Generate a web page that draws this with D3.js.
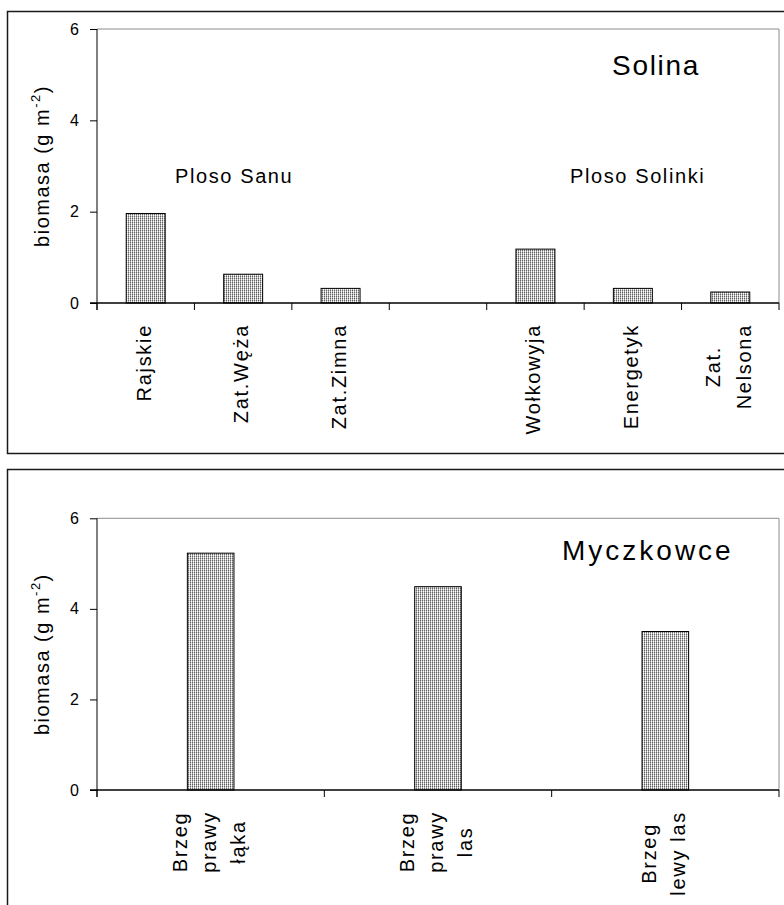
<!DOCTYPE html>
<html>
<head>
<meta charset="utf-8">
<script src="https://cdn.jsdelivr.net/npm/d3@7"></script>
<style>
  html, body { margin: 0; padding: 0; background: #fff; }
  svg { display: block; }
  text { font-family: "Liberation Sans", Arial, sans-serif; fill: #000; }
</style>
</head>
<body>
<svg id="chart" width="784" height="905"></svg>
<script>
// Solina reservoir sites (empty slot separates the two basins)
const solinaSites = ["Rajskie", "Zat.Węża", "Zat.Zimna", "", "Wołkowyja", "Energetyk", "Zat.\nNelsona"];
const solinaBiomass = [1.96, 0.63, 0.32, null, 1.18, 0.32, 0.24];
const solinaBasins = ["Ploso Sanu", "Ploso Solinki"];

// Myczkowce reservoir sites
const myczkowceSites = ["Brzeg\nprawy\nłąka", "Brzeg\nprawy\nlas", "Brzeg\nlewy las"];
const myczkowceBiomass = [5.23, 4.49, 3.50];

const yTicks = [0, 2, 4, 6];
const yTitle = ["biomasa (g m", "-2", ")"];

const svg = d3.select("#chart");

// Fine dotted fill used for the bars
const defs = svg.append("defs");
const pat = defs.append("pattern")
  .attr("id", "dots").attr("width", 2).attr("height", 2)
  .attr("patternUnits", "userSpaceOnUse");
pat.append("rect").attr("width", 2).attr("height", 2).attr("fill", "#fff");
pat.append("rect").attr("x", 0).attr("y", 0).attr("width", 1).attr("height", 1).attr("fill", "#606060");
pat.append("rect").attr("x", 0).attr("y", 1).attr("width", 1).attr("height", 1).attr("fill", "#a8a8a8");
pat.append("rect").attr("x", 1).attr("y", 0).attr("width", 1).attr("height", 1).attr("fill", "#d8d8d8");

function drawPanel(opt) {
  const g = svg.append("g");

  // outer frame
  g.append("rect")
    .attr("x", opt.frame[0]).attr("y", opt.frame[1])
    .attr("width", opt.frame[2]).attr("height", opt.frame[3])
    .attr("fill", "#fff").attr("stroke", "#1a1a1a").attr("stroke-width", 1.5);

  const x = d3.scaleBand().domain(d3.range(opt.sites.length))
    .range([opt.left, opt.right]).padding(0);
  const y = d3.scaleLinear().domain([0, 6]).range([opt.bottom, opt.top]);

  // plot-area border (top and right)
  g.append("path")
    .attr("d", `M${opt.left},${opt.top}H${opt.right}V${opt.bottom}`)
    .attr("fill", "none").attr("stroke", "#8c8c8c").attr("stroke-width", 1);

  // bars
  const bw = x.bandwidth() * opt.barFrac;
  g.selectAll("rect.bar")
    .data(opt.values.map((v, i) => ({ v, i })).filter(d => d.v != null))
    .join("rect").attr("class", "bar")
    .attr("x", d => x(d.i) + (x.bandwidth() - bw) / 2)
    .attr("y", d => y(d.v))
    .attr("width", bw)
    .attr("height", d => y(0) - y(d.v))
    .attr("fill", "url(#dots)")
    .attr("stroke", "#000").attr("stroke-width", 1);

  // y axis
  const yAxis = d3.axisLeft(y).tickValues(yTicks).tickSize(7).tickPadding(11).tickFormat(d3.format("d"));
  const ya = g.append("g").attr("transform", `translate(${opt.left},0)`).call(yAxis);
  ya.select(".domain").attr("d", `M0,${opt.top}V${opt.bottom + 7}`).attr("stroke", "#000");
  ya.selectAll(".tick line").attr("stroke", "#000");
  ya.selectAll(".tick text")
    .style("font-family", '"Liberation Sans", Arial, sans-serif')
    .style("font-size", "16px").attr("fill", "#000");

  // x axis with ticks on category boundaries
  const bounds = d3.range(opt.sites.length + 1).map(i => opt.left + i * x.step());
  g.append("line")
    .attr("x1", opt.left - 7).attr("x2", opt.right)
    .attr("y1", opt.bottom).attr("y2", opt.bottom)
    .attr("stroke", "#000").attr("stroke-width", 1.3);
  g.selectAll("line.xtick").data(bounds).join("line").attr("class", "xtick")
    .attr("x1", d => d).attr("x2", d => d)
    .attr("y1", opt.bottom).attr("y2", opt.bottom + 7)
    .attr("stroke", "#000").attr("stroke-width", 1);

  // category labels, rotated, wrapped on newlines
  const fs = 20, ls = 1.7, pitch = opt.pitch;
  opt.sites.forEach((s, i) => {
    if (!s) return;
    const lines = s.split("\n");
    const cx = x(i) + x.bandwidth() / 2;
    const lg = g.append("g");
    const tnodes = lines.map((ln, k) => lg.append("text")
      .attr("font-size", fs).attr("letter-spacing", ls)
      .attr("text-anchor", "middle")
      .text(ln));
    const maxLen = d3.max(tnodes, t => t.node().getComputedTextLength());
    const cy = opt.bottom + 21 + maxLen / 2;
    const n = lines.length;
    tnodes.forEach((t, k) => {
      const bx = cx + 5 + (k - (n - 1) / 2) * pitch;
      t.attr("transform", `translate(${bx},${cy}) rotate(-90)`);
    });
  });

  // y-axis title with superscript
  const yt = g.append("text")
    .attr("transform", `translate(${opt.titleX},${(opt.top + opt.bottom) / 2}) rotate(-90)`)
    .attr("text-anchor", "middle").attr("font-size", 20).attr("letter-spacing", 1.5);
  yt.append("tspan").text(yTitle[0]);
  yt.append("tspan").attr("font-size", 13).attr("dy", -9).text(yTitle[1]);
  yt.append("tspan").attr("dy", 9).text(yTitle[2]);

  // panel title
  g.append("text")
    .attr("x", opt.name.x).attr("y", opt.name.y)
    .attr("font-size", 28).attr("letter-spacing", opt.name.ls)
    .text(opt.name.text);

  return { g, x, y };
}

const solinaPanel = drawPanel({
  frame: [7.5, 11.5, 800, 442],
  left: 97, right: 779, top: 29, bottom: 303,
  sites: solinaSites, values: solinaBiomass, barFrac: 0.4,
  pitch: 31, titleX: 49,
  name: { text: "Solina", x: 612, y: 75, ls: 1.7 }
});

// basin labels above the Solina bars
solinaPanel.g.selectAll("text.basin")
  .data(solinaBasins)
  .join("text").attr("class", "basin")
  .attr("x", (d, i) => i === 0 ? 175 : 570)
  .attr("y", 183)
  .attr("font-size", 20).attr("letter-spacing", 1.6)
  .text(d => d);

const myczkowcePanel = drawPanel({
  frame: [7.5, 469.5, 800, 460],
  left: 97, right: 779, top: 518.3, bottom: 790,
  sites: myczkowceSites, values: myczkowceBiomass, barFrac: 0.205,
  pitch: 29, titleX: 49,
  name: { text: "Myczkowce", x: 562, y: 560, ls: 3 }
});
</script>
</body>
</html>
